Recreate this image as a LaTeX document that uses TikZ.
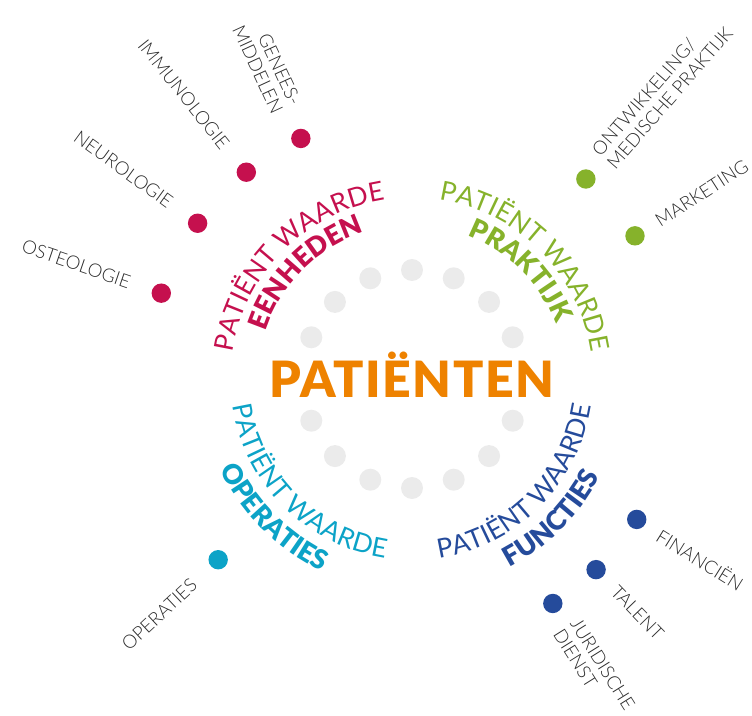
\documentclass[tikz,border=0pt]{standalone}
\usepackage{fontspec}
\setmainfont{Lato}
\newfontfamily\finafont{Lato Light}
\newfontfamily\gruesafont{Lato Black}[LetterSpace=3]
\newfontfamily\arcofont{Lato}
\newfontfamily\arconegrita{Lato Black}
\usetikzlibrary{math,decorations.text}

\definecolor{rosa}{HTML}{C5104E}
\definecolor{verde}{HTML}{86B22B}
\definecolor{cian}{HTML}{0CA3C7}
\definecolor{azul}{HTML}{254B9B}
\definecolor{naranja}{HTML}{EE8200}
\definecolor{gris}{HTML}{EBEBEB}
\definecolor{texto}{HTML}{2A2A2A}

\begin{document}
\begin{tikzpicture}[x=1pt, y=1pt,
    puntogris/.style={circle, fill=gris, minimum size=22, inner sep=0},
    punto/.style={circle, minimum size=19.4, inner sep=0},
    etiqueta/.style={inner sep=0, text=texto, font=\finafont\fontsize{18.6}{20}\selectfont},
]
    \tikzmath{
        \rgris = 109;
        \rpunto = 265;
        \rizq = 298;
        \rder = 291;
        \runo = 181;
        \rdos = 154;
        \rtres = 181;
        \rcuatro = 212;
    }

% margenes
\useasboundingbox (-412,-336) rectangle (340,379);

% anillo gris
\foreach \i in {1,...,7,9,10,...,15} {
    \node[puntogris] (g\i) at (\i*22.5:\rgris) {};
}

% centro
\node[anchor = base, text = naranja,
        font = \gruesafont\fontsize{50}{50}\selectfont] (centro) at (0,-18) {PATIËNTEN};

% Textos curvos
% arriba izquierda
\path[decorate, decoration={text along path, text align=center, text color=rosa,
        text={|\arcofont\fontsize{26.5}{26.5}\selectfont|PATIËNT WAARDE}}]
    (185:\runo) arc[start angle=185, end angle=85, radius=\runo];
\path[decorate, decoration={text along path, text align=center, text color=rosa,
        text={|\arconegrita\fontsize{27}{27}\selectfont|EENHEDEN}}]
    (185:\rdos) arc[start angle=185, end angle=85, radius=\rdos];

% arriba derecha
\path[decorate, decoration={text along path, text align=center, text color=verde,
        text={|\arcofont\fontsize{26.5}{26.5}\selectfont|PATIËNT WAARDE}}]
    (95:\runo) arc[start angle=95, end angle=-5, radius=\runo];
\path[decorate, decoration={text along path, text align=center, text color=verde,
        text={|\arconegrita\fontsize{27}{27}\selectfont|PRAKTIJK}}]
    (95:\rdos) arc[start angle=95, end angle=-5, radius=\rdos];

% abajo izquierda
\path[decorate, decoration={text along path, text align=center, text color=cian,
        text={|\arcofont\fontsize{26.5}{26.5}\selectfont|PATIËNT WAARDE}}]
    (175:\rtres) arc[start angle=175, end angle=275, radius=\rtres];
\path[decorate, decoration={text along path, text align=center, text color=cian,
        text={|\arconegrita\fontsize{27}{27}\selectfont|OPERATIES}}]
    (175:\rcuatro) arc[start angle=175, end angle=275, radius=\rcuatro];

% abajo derecha
\path[decorate, decoration={text along path, text align=center, text color=azul,
        text={|\arcofont\fontsize{26.5}{26.5}\selectfont|PATIËNT WAARDE}}]
    (-95:\rtres) arc[start angle=-95, end angle=5, radius=\rtres];
\path[decorate, decoration={text along path, text align=center, text color=azul,
        text={|\arconegrita\fontsize{27}{27}\selectfont|FUNCTIES}}]
    (-95:\rcuatro) arc[start angle=-95, end angle=5, radius=\rcuatro];

% Puntos y etiquetas, lado izquierdo
\foreach \a/\t/\c [count=\i] in {114.8/{GENEES-\\MIDDELEN}/rosa, 128.7/IMMUNOLOGIE/rosa,
        144/NEUROLOGIE/rosa, 161.1/OSTEOLOGIE/rosa, 223/OPERATIES/cian} {
    \node[punto, fill=\c] (pi\i) at (\a:\rpunto) {};
    \node[etiqueta, anchor=east, align=right, rotate=\a+180] (ei\i) at (\a:\rizq) {\t};
}

% lado derecho
\foreach \a/\t/\c [count=\i] in {49/{ONTWIKKELING/\\MEDISCHE PRAKTIJK}/verde, 32.7/MARKETING/verde,
        -32/FINANCIËN/azul, -46/TALENT/azul, -57.9/{JURIDISCHE\\DIENST}/azul} {
    \node[punto, fill=\c] (pd\i) at (\a:\rpunto) {};
    \node[etiqueta, anchor=west, align=left, rotate=\a] (ed\i) at (\a:\rder) {\t};
}

\end{tikzpicture}
\end{document}
